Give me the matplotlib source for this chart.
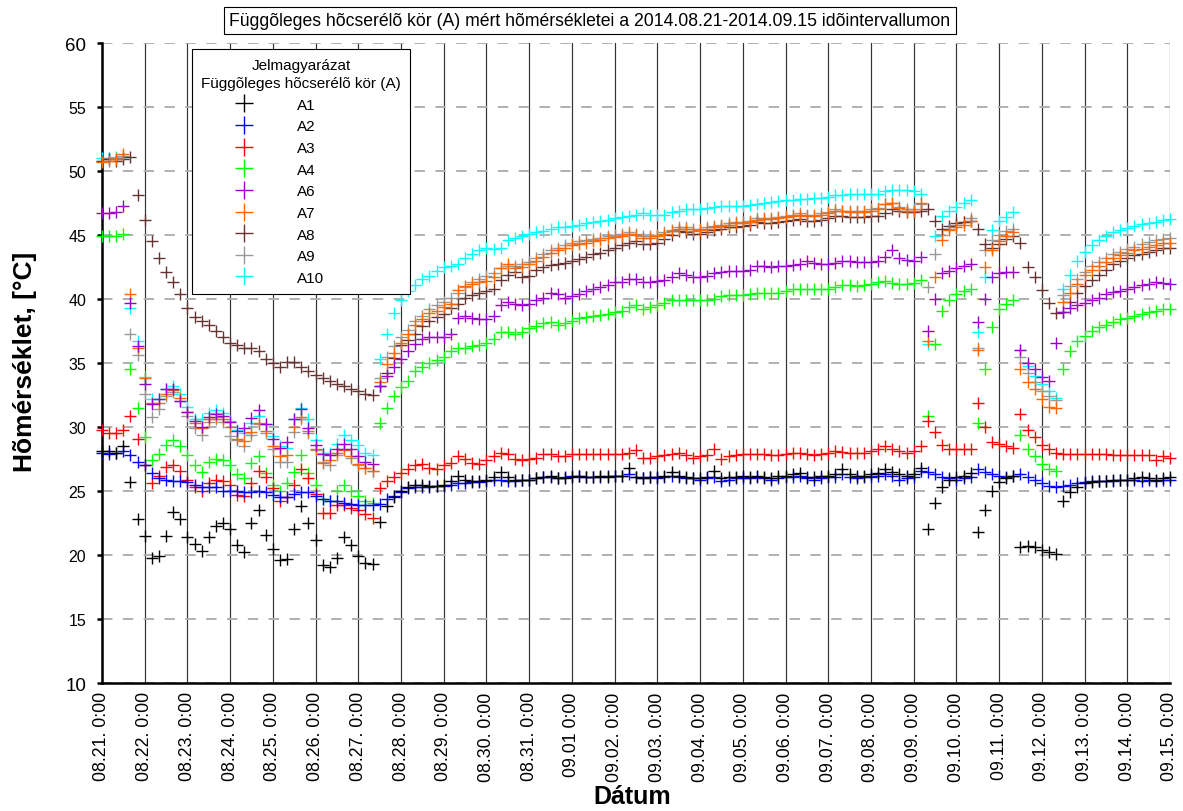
import matplotlib
matplotlib.use("Agg")
import matplotlib.pyplot as plt
import pandas as pd

plt.rcParams["font.family"] = ["Liberation Sans", "DejaVu Sans"]
plt.rcParams["lines.scale_dashes"] = False

# 4-hourly readings, 08.21 0:00 .. 09.15 0:00 (one row = one day)
times = pd.date_range("2014-08-21 00:00", "2014-09-15 00:00", freq="4h")
day_ticks = pd.date_range("2014-08-21", "2014-09-15", freq="D")
day_labels = [
    "08.21. 0:00", "08.22. 0:00", "08.23. 0:00", "08.24. 0:00", "08.25. 0:00",
    "08.26. 0:00", "08.27. 0:00", "08.28. 0:00", "08.29. 0:00", "08.30. 0:00",
    "08.31. 0:00", "09.01 0:00", "09.02. 0:00", "09.03. 0:00", "09.04. 0:00",
    "09.05. 0:00", "09.06. 0:00", "09.07. 0:00", "09.08. 0:00", "09.09. 0:00",
    "09.10. 0:00", "09.11. 0:00", "09.12. 0:00", "09.13. 0:00", "09.14. 0:00",
    "09.15. 0:00",
]

a1 = [28.1, 28.1, 28.0, 28.5, 25.7, 22.8,
      21.5, 19.8, 19.9, 21.5, 23.4, 22.8,
      21.4, 20.9, 20.3, 21.4, 22.3, 22.5,
      22.0, 20.8, 20.2, 22.5, 23.5, 21.6,
      20.5, 19.6, 19.7, 22.0, 23.8, 22.5,
      21.2, 19.2, 19.1, 19.8, 21.4, 20.8,
      19.9, 19.4, 19.3, 22.6, 23.8, 24.5,
      25.0, 25.3, 25.5, 25.5, 25.4, 25.4,
      25.5, 25.8, 26.2, 25.9, 25.8, 25.8,
      25.9, 26.1, 26.5, 26.1, 25.9, 25.9,
      25.9, 26.0, 26.1, 26.2, 26.0, 26.0,
      26.1, 26.2, 26.1, 26.1, 26.2, 26.1,
      26.2, 26.2, 26.8, 26.1, 26.0, 26.1,
      26.1, 26.2, 26.5, 26.2, 26.1, 26.0,
      26.0, 26.1, 26.6, 26.0, 26.1, 26.1,
      26.2, 26.1, 26.2, 26.1, 26.0, 26.2,
      26.2, 26.3, 26.4, 26.1, 26.1, 26.2,
      26.2, 26.3, 26.7, 26.3, 26.2, 26.2,
      26.3, 26.4, 26.7, 26.5, 26.3, 26.2,
      26.3, 26.8, 22.0, 24.1, 25.3, 25.9,
      26.1, 26.2, 26.4, 21.8, 23.5, 25.0,
      25.7, 26.0, 26.2, 20.6, 20.7, 20.6,
      20.4, 20.2, 20.1, 24.2, 24.9, 25.3,
      25.6, 25.7, 25.8, 25.8, 25.9, 25.9,
      25.9, 26.0, 26.1, 26.0, 25.9, 26.0,
      26.1]

a2 = [28.0, 27.9, 28.0, 28.1, 27.8, 27.3,
      27.0, 26.4, 26.0, 25.9, 25.8, 25.8,
      25.7, 25.5, 25.3, 25.3, 25.3, 25.0,
      25.0, 25.0, 24.9, 24.9, 25.0, 24.9,
      24.7, 24.5, 24.5, 24.8, 24.9, 24.9,
      24.6, 24.4, 24.2, 24.2, 24.1, 24.0,
      23.9, 23.9, 23.9, 24.0, 24.4, 24.6,
      24.9, 25.2, 25.3, 25.3, 25.3, 25.4,
      25.4, 25.5, 25.6, 25.6, 25.7, 25.7,
      25.8, 25.9, 25.9, 25.8, 25.8, 25.9,
      25.9, 26.0, 26.1, 26.1, 26.0, 26.1,
      26.2, 26.2, 26.1, 26.1, 26.1, 26.2,
      26.2, 26.2, 26.3, 26.1, 26.0, 26.1,
      26.0, 26.1, 26.2, 26.1, 26.0, 26.0,
      25.9, 26.0, 26.1, 25.8, 25.9, 26.0,
      26.0, 26.0, 26.1, 26.0, 25.9, 26.0,
      26.1, 26.1, 26.2, 26.0, 25.9, 26.0,
      26.1, 26.1, 26.3, 26.1, 26.0, 26.1,
      26.1, 26.2, 26.3, 26.2, 25.9, 26.0,
      26.1, 26.6, 26.5, 26.3, 26.1, 26.0,
      25.9, 26.0, 26.1, 26.7, 26.5, 26.3,
      26.2, 26.1, 26.2, 26.3, 26.1, 25.9,
      25.6, 25.4, 25.3, 25.4, 25.5, 25.6,
      25.7, 25.8, 25.8, 25.8, 25.8, 25.9,
      25.9, 25.9, 25.8, 25.9, 25.8, 25.9,
      25.9]

a3 = [29.8, 29.5, 29.5, 29.8, 30.9, 29.1,
      27.0, 25.6, 26.2, 26.9, 27.0, 26.6,
      25.9, 25.3, 25.0, 25.6, 25.9, 25.8,
      25.5, 24.7, 24.6, 25.6, 26.6, 26.1,
      25.2, 24.2, 24.5, 25.5, 26.7, 26.0,
      24.8, 23.3, 23.3, 23.9, 23.9, 23.7,
      23.5, 23.2, 22.9, 25.2, 25.8, 26.1,
      26.4, 26.7, 27.0, 27.1, 26.8, 26.7,
      27.0, 27.2, 27.7, 27.5, 27.2, 27.1,
      27.4, 27.7, 28.0, 27.9, 27.5, 27.4,
      27.5, 27.6, 27.9, 27.9, 27.7, 27.7,
      27.9, 27.9, 27.9, 27.9, 27.9, 27.9,
      27.9, 27.9, 28.0, 28.2, 27.6, 27.6,
      27.7, 27.8, 27.9, 28.0, 27.8, 27.6,
      27.7, 27.8, 28.3, 27.5, 27.7, 27.8,
      27.9, 27.9, 27.9, 27.9, 27.8, 27.85,
      27.9, 27.95, 28.0, 27.9, 27.8, 27.9,
      28.0, 28.1, 28.05, 28.0, 28.0, 28.0,
      28.1, 28.3, 28.5, 28.3, 28.1, 28.0,
      28.1, 28.5, 30.5, 29.6, 28.6, 28.3,
      28.3, 28.3, 28.3, 31.9, 30.0, 28.8,
      28.7, 28.5, 28.4, 31.0, 29.8, 29.2,
      28.6, 28.3, 28.0, 27.9, 27.9, 27.9,
      27.9, 27.9, 27.9, 27.9, 27.8, 27.8,
      27.8, 27.8, 27.8, 27.8, 27.4, 27.7,
      27.6]

a4 = [44.9, 44.9, 44.95, 45.1, 34.5, 31.5,
      29.2, 27.4, 27.9, 28.6, 29.0, 28.5,
      27.8, 27.0, 26.5, 27.3, 27.5, 27.4,
      27.0, 26.3, 26.0, 27.2, 27.7, 26.4,
      25.5, 25.0, 25.6, 26.5, 27.8, 26.4,
      25.5, 24.4, 24.2, 25.0, 25.5, 25.0,
      24.6, 24.2, 24.1, 30.3, 31.5, 32.4,
      33.1, 33.6, 34.4, 34.7, 35.0, 35.2,
      35.5, 35.9, 36.15, 36.2, 36.3, 36.4,
      36.6, 36.9, 37.4, 37.4, 37.3, 37.4,
      37.7, 37.9, 38.1, 38.2, 38.0, 38.1,
      38.3, 38.5, 38.6, 38.7, 38.75, 38.85,
      39.0, 39.1, 39.4, 39.5, 39.2, 39.35,
      39.55, 39.7, 39.9, 39.9, 39.9, 39.9,
      39.9, 39.95, 40.0, 40.2, 40.3, 40.3,
      40.3, 40.4, 40.45, 40.5, 40.5, 40.5,
      40.65, 40.8, 40.8, 40.8, 40.8, 40.8,
      40.8, 40.9, 41.1, 41.1, 41.0, 41.1,
      41.2, 41.3, 41.4, 41.25, 41.2, 41.2,
      41.25, 41.5, 30.9, 36.5, 39.1, 39.9,
      40.4, 40.65, 40.8, 30.3, 34.5, 37.8,
      39.2, 39.6, 39.9, 29.4, 28.3, 27.7,
      27.1, 26.7, 26.6, 34.5, 35.9, 36.7,
      37.1, 37.5, 37.8, 38.0, 38.2, 38.4,
      38.55, 38.7, 38.8, 38.95, 39.1, 39.2,
      39.2]

a6 = [46.7, 46.7, 46.8, 47.3, 39.7, 36.3,
      33.4, 31.8, 32.2, 33.0, 33.0, 32.0,
      31.2, 30.5, 30.0, 30.8, 31.0, 30.9,
      30.4, 29.7, 29.9, 30.7, 31.3, 30.2,
      29.1, 28.4, 28.8, 30.6, 31.4, 29.9,
      28.6, 27.9, 27.8, 28.3, 28.7, 28.3,
      27.7, 27.3, 27.1, 33.2, 34.0, 34.7,
      35.3, 35.9, 36.5, 36.9, 37.0, 37.0,
      37.0, 37.3, 38.5, 38.7, 38.5, 38.4,
      38.4, 38.7, 39.5, 39.8, 39.6, 39.5,
      39.6, 39.9, 40.1, 40.5, 40.4, 40.1,
      40.2, 40.4, 40.65, 40.8, 40.95, 41.1,
      41.3, 41.35, 41.6, 41.6, 41.3, 41.3,
      41.4, 41.5, 41.7, 42.0, 41.9, 41.7,
      41.75, 41.8, 42.0, 42.1, 42.2, 42.2,
      42.2, 42.3, 42.6, 42.55, 42.5, 42.55,
      42.6, 42.65, 42.7, 42.95, 42.8, 42.7,
      42.7, 42.8, 43.0, 42.95, 42.9, 42.9,
      42.9, 43.0, 43.3, 43.8, 43.2, 43.05,
      43.0, 43.3, 37.5, 40.0, 42.0, 42.2,
      42.4, 42.6, 42.7, 38.2, 40.0, 41.7,
      42.0, 42.1, 42.1, 36.0, 35.0, 34.5,
      33.9, 33.6, 36.6, 39.0, 39.3, 39.5,
      39.7, 39.9, 40.1, 40.4, 40.55, 40.65,
      40.8, 40.95, 41.1, 41.2, 41.3, 41.25,
      41.2]

a7 = [50.7, 50.8, 50.9, 51.3, 40.4, 36.2,
      33.8, 31.9, 31.9, 32.6, 32.9, 32.3,
      31.2, 30.3, 29.9, 30.6, 30.75, 30.6,
      30.0, 29.1, 28.9, 29.6, 30.3, 29.7,
      28.5, 27.7, 27.8, 30.0, 30.8, 29.7,
      28.3, 27.2, 27.4, 28.0, 28.2, 27.7,
      27.1, 26.8, 26.6, 33.5, 34.9, 35.8,
      36.6, 37.3, 38.0, 38.4, 38.9, 39.1,
      39.4, 39.6, 40.7, 41.0, 41.2, 41.3,
      41.4, 41.7, 42.4, 42.7, 42.4, 42.5,
      42.7, 43.0, 43.3, 43.6, 43.8, 44.0,
      44.2, 44.3, 44.4, 44.5, 44.6, 44.75,
      44.85, 44.95, 45.1, 45.0, 44.8, 44.8,
      44.95, 45.1, 45.3, 45.5, 45.5, 45.3,
      45.4, 45.5, 45.6, 45.7, 45.8, 45.9,
      45.9, 46.0, 46.2, 46.25, 46.25, 46.3,
      46.4, 46.5, 46.6, 46.5, 46.5, 46.6,
      46.7, 46.9, 46.85, 46.8, 46.8, 46.8,
      46.9, 47.0, 47.4, 47.5, 47.1, 46.9,
      46.9, 47.5, 36.7, 41.7, 44.6, 45.4,
      45.6, 45.8, 46.1, 36.0, 42.5, 43.8,
      44.5, 44.9, 45.2, 34.5, 33.5, 33.0,
      32.2, 31.6, 31.5, 39.8, 40.5, 41.2,
      41.9, 42.3, 42.6, 42.9, 43.2, 43.4,
      43.6, 43.8, 43.9, 44.1, 44.2, 44.35,
      44.4]

a8 = [50.8, 50.9, 50.8, 50.9, 51.1, 48.1,
      46.2, 44.5, 43.2, 42.1, 41.3, 40.4,
      39.3, 38.6, 38.3, 38.0, 37.5, 37.0,
      36.6, 36.4, 36.2, 36.2, 35.9, 35.3,
      35.0, 34.7, 35.1, 35.1, 34.7, 34.4,
      34.1, 33.8, 33.6, 33.4, 33.2, 33.0,
      32.8, 32.6, 32.5, 33.2, 34.2, 35.4,
      36.4, 36.8, 37.3, 37.9, 38.3, 38.6,
      38.8, 39.3, 39.6, 40.1, 40.3, 40.5,
      40.65, 40.8, 41.5, 41.9, 42.1, 41.7,
      41.8, 42.3, 42.5, 42.65, 42.7, 42.8,
      43.0, 43.1, 43.3, 43.5, 43.6, 43.8,
      44.0, 44.2, 44.4, 44.5, 44.3, 44.3,
      44.4, 44.7, 45.0, 45.3, 45.2, 45.1,
      45.1, 45.2, 45.4, 45.5, 45.6, 45.6,
      45.7, 45.8, 46.0, 45.9, 45.9, 46.0,
      46.1, 46.2, 46.25, 46.1, 46.1, 46.2,
      46.3, 46.5, 46.5, 46.4, 46.4, 46.4,
      46.5, 46.5, 46.7, 47.0, 46.9, 46.8,
      46.8, 46.9, 47.0, 46.1, 45.5, 45.7,
      45.9, 46.0, 46.1, 45.5, 44.3, 44.0,
      44.3, 44.7, 44.95, 44.4, 42.5, 41.7,
      40.7, 39.7, 38.9, 39.0, 39.8, 40.5,
      41.0, 41.5, 41.9, 42.3, 42.7, 43.0,
      43.2, 43.4, 43.5, 43.7, 43.8, 43.95,
      44.0]

a9 = [50.8, 51.0, 51.0, 51.2, 37.3, 35.6,
      32.6, 30.8, 31.4, 32.4, 32.7, 32.0,
      30.9, 29.9, 29.4, 30.4, 30.6, 30.4,
      29.3, 29.0, 28.5, 29.4, 30.2, 29.5,
      28.3, 27.3, 27.3, 29.6, 30.6, 29.5,
      28.2, 27.3, 27.0, 27.8, 28.3, 27.6,
      27.0, 26.8, 26.6, 33.8, 35.5, 36.3,
      37.0, 37.6, 38.3, 38.7, 39.2, 39.5,
      39.8, 40.1, 40.5, 40.9, 41.3, 41.6,
      41.8, 42.0, 42.4, 42.6, 42.6, 42.7,
      42.9, 43.2, 43.5, 43.8, 44.0, 44.2,
      44.4, 44.5, 44.6, 44.7, 44.8, 44.9,
      45.0, 45.1, 45.2, 45.1, 44.9, 44.9,
      45.0, 45.2, 45.4, 45.6, 45.6, 45.5,
      45.5, 45.6, 45.7, 45.8, 45.9, 46.0,
      46.0, 46.1, 46.3, 46.3, 46.3, 46.4,
      46.5, 46.6, 46.7, 46.6, 46.6, 46.7,
      46.8, 47.0, 46.9, 46.9, 46.9, 46.9,
      47.0, 47.1, 47.4, 47.5, 47.2, 47.0,
      47.0, 47.4, 40.9, 43.5, 45.0, 45.5,
      45.8, 46.0, 46.3, 36.2, 43.8, 44.6,
      45.0, 45.3, 45.5, 35.5, 34.2, 33.5,
      32.8, 32.4, 32.1, 40.3, 41.0, 41.6,
      42.1, 42.6, 42.9, 43.2, 43.5, 43.7,
      43.9, 44.1, 44.3, 44.45, 44.6, 44.7,
      44.8]

a10 = [51.0, 51.0, 51.1, 51.1, 39.3, 36.7,
       33.9, 32.2, 32.2, 33.0, 33.2, 32.6,
       31.6, 30.6, 30.6, 31.1, 31.3, 31.1,
       30.5, 29.8, 29.5, 30.3, 30.9, 30.2,
       29.3, 28.5, 28.4, 30.6, 31.5, 30.6,
       29.0, 28.0, 28.0, 28.7, 29.4, 29.0,
       28.6, 28.0, 27.8, 35.3, 37.3, 38.9,
       39.9, 40.6, 41.1, 41.6, 41.8, 42.2,
       42.5, 42.6, 42.7, 43.2, 43.5, 43.8,
       44.0, 43.9, 44.0, 44.6, 44.8, 44.95,
       45.1, 45.2, 45.3, 45.5, 45.6, 45.6,
       45.7, 45.8, 45.9, 46.0, 46.1, 46.2,
       46.3, 46.4, 46.5, 46.6, 46.7, 46.6,
       46.6, 46.6, 46.8, 46.9, 47.0, 47.0,
       47.0, 47.1, 47.2, 47.3, 47.3, 47.3,
       47.3, 47.35, 47.4, 47.5, 47.6, 47.65,
       47.7, 47.75, 47.8, 47.85, 47.9, 47.9,
       48.0, 48.1, 48.1, 48.2, 48.2, 48.2,
       48.2, 48.2, 48.4, 48.5, 48.5, 48.5,
       48.4, 48.2, 36.5, 44.95, 46.5, 46.9,
       47.2, 47.5, 47.7, 37.4, 41.7, 45.4,
       46.1, 46.4, 46.8, 36.0, 34.8, 34.0,
       33.4, 32.8, 32.3, 40.8, 41.9, 43.0,
       43.7, 44.2, 44.6, 44.95, 45.2, 45.4,
       45.55, 45.7, 45.85, 45.95, 46.05, 46.15,
       46.25]

series_names = ["A1", "A2", "A3", "A4", "A6", "A7", "A8", "A9", "A10"]
series_values = [a1, a2, a3, a4, a6, a7, a8, a9, a10]
series_colors = ["#000000", "#0000ff", "#ff0000", "#00ff00", "#9900cc",
                 "#ff6600", "#663333", "#999999", "#00ffff"]

fig = plt.figure(figsize=(11.83, 8.12), dpi=100, facecolor="white")
ax = fig.add_axes([0.0862, 0.1576, 0.9028, 0.7882])

handles = {}
for name, vals, col in reversed(list(zip(series_names, series_values, series_colors))):
    (h,) = ax.plot(times, vals, ls="none", marker="+", ms=9, mew=1.0,
                   color=col, label=name, zorder=3, clip_on=False)
    handles[name] = h

ax.set_xlim(times[0], times[-1])
ax.set_ylim(10, 60)
ax.set_yticks(range(10, 61, 5))
ax.set_xticks(day_ticks)
ax.set_xticklabels(day_labels, rotation=90, fontsize=12.8)

# the end values of the y scale are drawn larger, with longer ticks
for lbl, val in zip(ax.get_yticklabels(), range(10, 61, 5)):
    lbl.set_fontsize(13.5 if val in (10, 60) else 11.5)
for tick, val in zip(ax.yaxis.get_major_ticks(), range(10, 61, 5)):
    tick.tick1line.set_markersize(14 if val in (10, 60) else 6)

ax.tick_params(axis="x", length=0, pad=6)
ax.tick_params(axis="y", width=1.8, pad=8)

ax.grid(axis="x", color="#333333", lw=0.85, ls="-", zorder=1)
ax.grid(axis="y", color="#b0b0b0", lw=1.4, ls=(0, (7.5, 7.5)), zorder=1)
ax.set_axisbelow(True)

for side in ("top", "right"):
    ax.spines[side].set_visible(False)
for side in ("left", "bottom"):
    ax.spines[side].set_linewidth(1.8)

leg = ax.legend([handles[n] for n in series_names], series_names,
                title="Jelmagyarázat\nFüggõleges hõcserélõ kör (A)",
                loc="upper left", bbox_to_anchor=(0.0844, 0.9906),
                borderaxespad=0, fontsize=11, title_fontsize=11,
                frameon=True, fancybox=False, edgecolor="black", framealpha=1,
                markerscale=1.45, handlelength=5.6, handletextpad=0.65,
                labelspacing=0.5, borderpad=0.6, alignment="left")
leg.get_title().set_multialignment("center")
leg.get_title().set_linespacing(1.35)
leg.get_frame().set_linewidth(0.8)
leg.set_zorder(5)

fig.text(0.4987, 0.9735,
         "Függõleges hõcserélõ kör (A) mért hõmérsékletei a 2014.08.21-2014.09.15 idõintervallumon",
         ha="center", va="center", fontsize=12.7,
         bbox=dict(boxstyle="square,pad=0.3", fc="white", ec="black", lw=0.8))

fig.text(0.021, 0.554, "Hõmérséklet, [°C]", rotation=90, ha="center", va="center",
         fontsize=19, fontweight="bold")
fig.text(0.534, 0.018, "Dátum", ha="center", va="center",
         fontsize=18, fontweight="bold")

fig.savefig("out.png", dpi=100)
